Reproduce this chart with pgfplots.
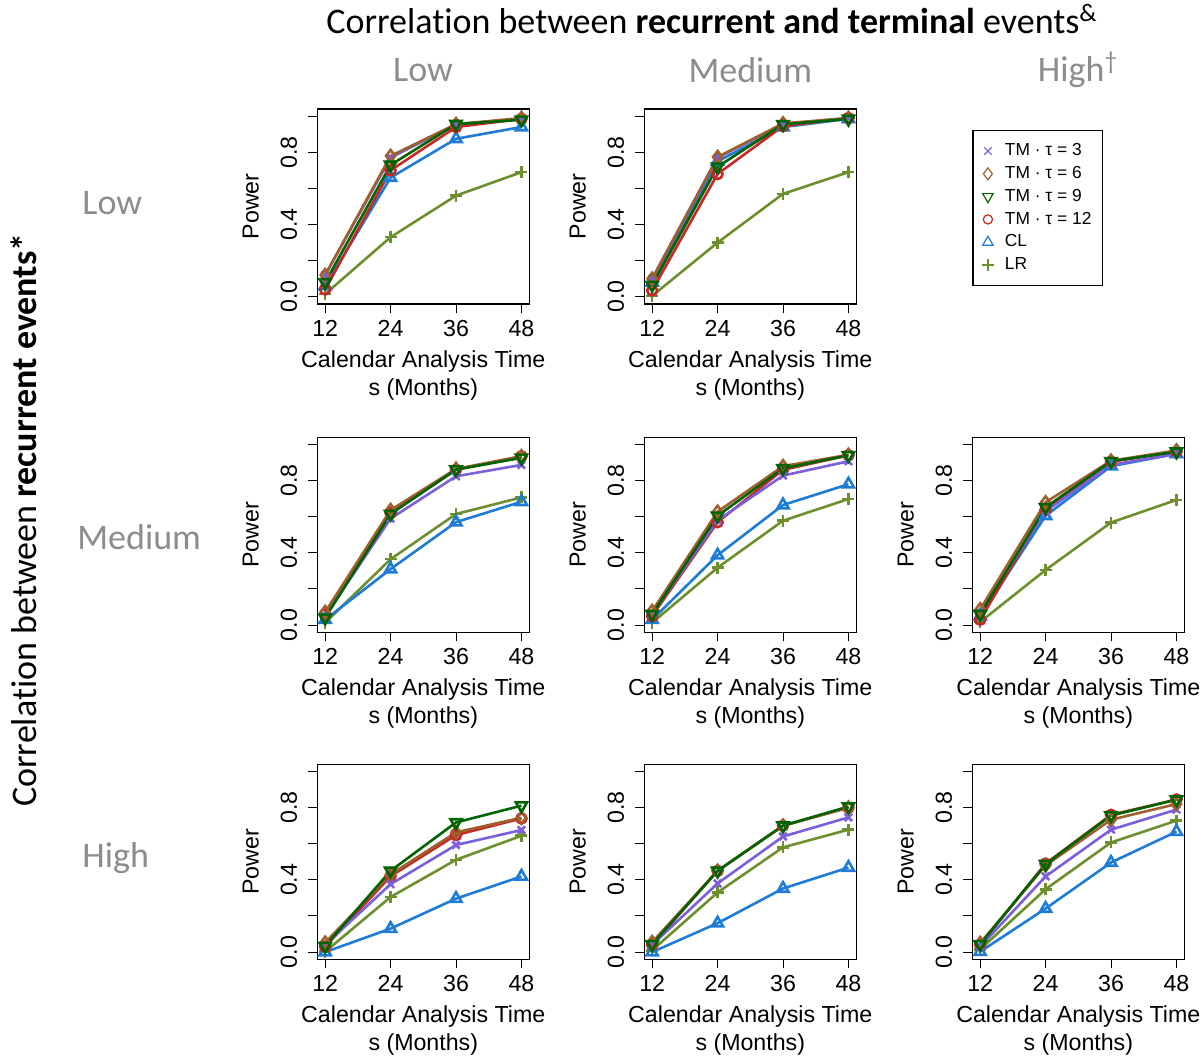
\documentclass[border=0pt]{standalone}
\usepackage{pgfplots}
\pgfplotsset{compat=1.18}
\usepackage{pgfplotstable}
\usepackage{fontspec}
\setmainfont{Liberation Sans}
\newfontfamily\calib[Ligatures={NoCommon}]{Carlito}
\definecolor{cTMa}{HTML}{7B5FDB}
\definecolor{cTMb}{HTML}{A0602D}
\definecolor{cTMc}{HTML}{006400}
\definecolor{cTMd}{HTML}{C62828}
\definecolor{cCL}{HTML}{1E7BD6}
\definecolor{cLR}{HTML}{6E8F2E}
\definecolor{hdr}{HTML}{8C8C8C}

\pgfplotstableread{
x tma tmb tmc tmd cl lr
12 0.12 0.12 0.08 0.04 0.06 0.015
24 0.77 0.78 0.73 0.70 0.66 0.33
36 0.955 0.956 0.956 0.94 0.875 0.56
48 0.985 0.99 0.98 0.985 0.94 0.69
}\PA
\pgfplotstableread{
x tma tmb tmc tmd cl lr
12 0.10 0.10 0.065 0.035 0.08 0.005
24 0.77 0.774 0.72 0.68 0.75 0.30
36 0.955 0.96 0.955 0.945 0.94 0.57
48 0.99 0.99 0.985 0.99 0.985 0.69
}\PB
\pgfplotstableread{
x tma tmb tmc tmd cl lr
12 0.05 0.072 0.04 0.06 0.03 0.013
24 0.59 0.637 0.615 0.62 0.31 0.365
36 0.824 0.865 0.861 0.86 0.57 0.615
48 0.887 0.935 0.926 0.935 0.683 0.707
}\PD
\pgfplotstableread{
x tma tmb tmc tmd cl lr
12 0.06 0.078 0.06 0.05 0.03 0.013
24 0.58 0.628 0.605 0.57 0.387 0.318
36 0.828 0.88 0.868 0.86 0.665 0.578
48 0.907 0.943 0.94 0.94 0.78 0.698
}\PE
\pgfplotstableread{
x tma tmb tmc tmd cl lr
12 0.07 0.087 0.06 0.03 0.05 0.017
24 0.63 0.68 0.652 0.64 0.605 0.305
36 0.887 0.91 0.907 0.905 0.88 0.568
48 0.948 0.967 0.96 0.96 0.948 0.693
}\PF
\pgfplotstableread{
x tma tmb tmc tmd cl lr
12 0.04 0.052 0.033 0.03 0.0 0.002
24 0.376 0.43 0.45 0.42 0.13 0.305
36 0.593 0.663 0.718 0.648 0.296 0.511
48 0.676 0.744 0.811 0.74 0.419 0.644
}\PG
\pgfplotstableread{
x tma tmb tmc tmd cl lr
12 0.04 0.055 0.043 0.04 0.0 0.01
24 0.38 0.45 0.45 0.45 0.16 0.33
36 0.64 0.70 0.70 0.70 0.352 0.58
48 0.746 0.80 0.806 0.80 0.468 0.678
}\PH
\pgfplotstableread{
x tma tmb tmc tmd cl lr
12 0.03 0.05 0.043 0.04 0.002 0.015
24 0.419 0.48 0.487 0.49 0.241 0.348
36 0.678 0.733 0.756 0.76 0.496 0.607
48 0.789 0.82 0.844 0.845 0.667 0.728
}\PI

\pgfplotsset{
  panel/.style={
    scale only axis, width=106pt, height=97.5pt, anchor=south west,
    xmin=10.56, xmax=49.44, ymin=-0.04, ymax=1.04,
    xtick={12,24,36,48}, xticklabels={12,24,36,48},
    ytick={0,0.2,0.4,0.6,0.8,1}, yticklabels={0.0,{},0.4,{},0.8,{}},
    xtick pos=bottom, ytick pos=left,
    tick align=outside, major tick length=4.6pt,
    tick style={black, line width=0.5pt},
    axis line style={line width=0.6pt},
    every tick label/.append style={font=\fontsize{11.6}{14}\selectfont},
    yticklabel style={rotate=90, anchor=south, yshift=2pt},
    label style={font=\fontsize{11.6}{14}\selectfont},
    xlabel={Calendar Analysis Time\\s (Months)},
    xlabel style={align=center},
    ylabel={Power},
    ylabel style={yshift=4pt},
  },
  sA/.style={cTMa, line width=1.3pt, mark=x, mark size=2.6pt, mark options={solid}},
  sB/.style={cTMb, line width=1.3pt, mark=diamond, mark size=3pt, mark options={solid}},
  sC/.style={cTMc, line width=1.3pt, mark=triangle, mark size=3.2pt, mark options={solid, rotate=180}},
  sD/.style={cTMd, line width=1.3pt, mark=o, mark size=2.5pt, mark options={solid}},
  sE/.style={cCL, line width=1.3pt, mark=triangle, mark size=3.2pt, mark options={solid}},
  sF/.style={cLR, line width=1.3pt, mark=+, mark size=3pt, mark options={solid}},
}

\newcommand\panel[3]{%
  \begin{axis}[panel, at={(#1,#2)}]
    \addplot[sF] table[x=x,y=lr]{#3};
    \addplot[sE] table[x=x,y=cl]{#3};
    \addplot[sD] table[x=x,y=tmd]{#3};
    \addplot[sA] table[x=x,y=tma]{#3};
    \addplot[sB] table[x=x,y=tmb]{#3};
    \addplot[sC] table[x=x,y=tmc]{#3};
  \end{axis}}

\begin{document}
\begin{tikzpicture}
\path[use as bounding box] (0pt,0pt) rectangle (602pt,529.5pt);

\panel{158.65pt}{377.5pt}{\PA}
\panel{322.15pt}{377.5pt}{\PB}
\panel{158.65pt}{213.35pt}{\PD}
\panel{322.15pt}{213.35pt}{\PE}
\panel{486.15pt}{213.35pt}{\PF}
\panel{158.65pt}{49.85pt}{\PG}
\panel{322.15pt}{49.85pt}{\PH}
\panel{486.15pt}{49.85pt}{\PI}

\begin{axis}[scale only axis, width=106pt, height=97.5pt, anchor=south west,
  at={(486.15pt,377.5pt)}, hide axis, xmin=0, xmax=1, ymin=0, ymax=1,
  legend image code/.code={\draw[#1] plot coordinates {(0pt,0pt)};},
  legend cell align=left,
  legend style={at={(0,0.892)}, anchor=north west, draw=black, line width=0.6pt,
    font=\fontsize{8.7}{10}\selectfont, inner xsep=4.5pt, inner ysep=4.5pt,
    nodes={inner sep=1pt, text height=7pt, text depth=2.4pt},
    /tikz/every odd column/.append style={column sep=4.5pt}}]
  \addlegendimage{cTMa, line width=0.6pt, mark=x, mark size=2.6pt}
  \addlegendentry{TM · τ = 3}
  \addlegendimage{cTMb, line width=0.6pt, mark=diamond, mark size=3pt}
  \addlegendentry{TM · τ = 6}
  \addlegendimage{cTMc, line width=0.6pt, mark=triangle, mark size=3pt, mark options={rotate=180}}
  \addlegendentry{TM · τ = 9}
  \addlegendimage{cTMd, line width=0.6pt, mark=o, mark size=2.3pt}
  \addlegendentry{TM · τ = 12}
  \addlegendimage{cCL, line width=0.6pt, mark=triangle, mark size=3pt}
  \addlegendentry{CL}
  \addlegendimage{cLR, line width=0.6pt, mark=+, mark size=3pt}
  \addlegendentry{LR}
\end{axis}

\node[font=\calib\fontsize{18}{20}\selectfont] at (356pt,520pt)
  {Correlation between \textbf{recurrent and terminal} events\textsuperscript{\&}};
\node[font=\calib\fontsize{18}{20}\selectfont, text=hdr] at (211.5pt,494.5pt) {Low};
\node[font=\calib\fontsize{18}{20}\selectfont, text=hdr] at (375.2pt,494.5pt) {Medium};
\node[font=\calib\fontsize{18}{20}\selectfont, text=hdr] at (539pt,494.5pt) {High\textsuperscript{\textdagger}};
\node[font=\calib\fontsize{18}{20}\selectfont, text=hdr, anchor=west, inner sep=0pt] at (41pt,428pt) {Low};
\node[font=\calib\fontsize{18}{20}\selectfont, text=hdr, anchor=west, inner sep=0pt] at (38.5pt,261pt) {Medium};
\node[font=\calib\fontsize{18}{20}\selectfont, text=hdr, anchor=west, inner sep=0pt] at (41pt,100.5pt) {High};
\node[font=\calib\fontsize{18}{20}\selectfont, rotate=90] at (12pt,269.5pt)
  {Correlation between \textbf{recurrent events*}};
\end{tikzpicture}
\end{document}
